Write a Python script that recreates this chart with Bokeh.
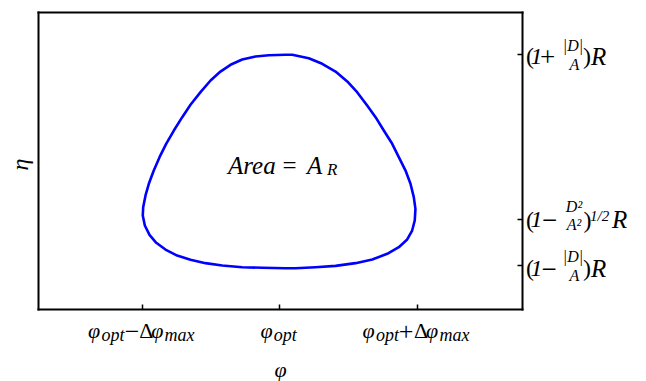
import math
from bokeh.plotting import figure
from bokeh.models import Label, FixedTicker, Range1d, CustomJSTickFormatter, LinearAxis
from bokeh.embed import file_html
from bokeh.resources import INLINE

# ---------------- data ----------------
# closed orbit in the (phi, eta) plane; phi in units of Delta-phi_max around phi_opt, eta in units of R
phi_curve = [0.040, -0.081, -0.178, -0.275, -0.360, -0.433, -0.505, -0.578, -0.651, -0.711,
             -0.772, -0.828, -0.876, -0.918, -0.954, -0.978, -0.995, -0.998, -0.983, -0.949,
             -0.900, -0.833, -0.748, -0.651, -0.542, -0.420, -0.275, -0.129, 0.040, 0.113,
             0.258, 0.404, 0.549, 0.671, 0.780, 0.864, 0.925, 0.961, 0.980, 0.985,
             0.973, 0.949, 0.913, 0.864, 0.816, 0.755, 0.695, 0.634, 0.561, 0.489,
             0.404, 0.307, 0.209, 0.089, 0.040]
eta_curve = [1.854, 1.850, 1.840, 1.815, 1.772, 1.717, 1.644, 1.549, 1.446, 1.345,
             1.236, 1.128, 1.019, 0.910, 0.802, 0.707, 0.611, 0.544, 0.462, 0.386,
             0.321, 0.266, 0.217, 0.182, 0.155, 0.136, 0.122, 0.117, 0.114, 0.114,
             0.122, 0.133, 0.155, 0.185, 0.231, 0.285, 0.348, 0.421, 0.503, 0.598,
             0.693, 0.802, 0.910, 1.019, 1.128, 1.236, 1.345, 1.440, 1.549, 1.636,
             1.717, 1.780, 1.826, 1.854, 1.854]

x_tick_values = [-1.0, 0.0, 1.0]
x_tick_label_parts = [["φ", "opt", "−", "Δ", "φ", "max"],
                      ["φ", "opt"],
                      ["φ", "opt", "+", "Δ", "φ", "max"]]

y_tick_values = [1.86, 0.51, 0.14]
y_tick_label_parts = [["(", "1", "+", "|D|", "A", ")", "R"],
                      ["(", "1", "−", "D²", "A²", ")", "1/2", "R"],
                      ["(", "1", "−", "|D|", "A", ")", "R"]]

area_text_parts = ["Area", "=", "A", "R"]
x_axis_title = "φ"
y_axis_title = "η"

# ---------------- layout / style ----------------
FONT = "Liberation Serif"
W, H = 640, 381
X_RANGE = (-2.0327, 2.6218)
Y_RANGE = (-0.8097, 2.2962)
BOX_X = (-1.753, 1.760)     # plot box edges
BOX_Y = (-0.2268, 2.1984)
BASELINE_FIX = 7            # px, renderer places alphabetic baselines this much lower

# per part: (dx from tick, dy down from box bottom, size px, style, align)
x_part_layout = [
    [(-54.5, 28, 22, "italic", "left"), (-41, 32, 18, "italic", "left"),
     (-10.5, 28.5, 26, "normal", "center"),
     (-3.2, 28, 22, "normal", "left"), (8.8, 28, 22, "italic", "left"), (22, 32, 18, "italic", "left")],
    [(-19.5, 28, 22, "italic", "left"), (-6.2, 32, 18, "italic", "left")],
    [(-55, 28, 22, "italic", "left"), (-41.5, 32, 18, "italic", "left"),
     (-11.5, 28.5, 26, "normal", "center"),
     (-3.5, 28, 22, "normal", "left"), (8.5, 28, 22, "italic", "left"), (22, 32, 18, "italic", "left")],
]
# per part: (dx from right box edge, dy down from tick, size px, style, align)
y_part_layout = [
    [(4, 9, 24, "normal", "left"), (8.5, 9, 24, "italic", "left"), (25.5, 9.5, 27, "normal", "center"),
     (51, -2, 16, "italic", "center"), (52.5, 17, 16, "italic", "center"),
     (61, 9, 24, "normal", "left"), (69, 9, 25, "italic", "left")],
    [(4, 7, 24, "normal", "left"), (8.5, 7, 24, "italic", "left"), (27.5, 7.5, 27, "normal", "center"),
     (52, -6.5, 16, "italic", "center"), (52, 11.5, 16, "italic", "center"),
     (61.5, 7, 24, "normal", "left"), (68, 3.5, 15, "italic", "left"), (90, 7, 25, "italic", "left")],
    [(4, 10, 24, "normal", "left"), (8.5, 10, 24, "italic", "left"), (27, 10.5, 27, "normal", "center"),
     (51, -1.5, 16, "italic", "center"), (52.5, 17, 16, "italic", "center"),
     (61, 10, 24, "normal", "left"), (69, 10, 25, "italic", "left")],
]
area_anchor = (0.0, 0.896)
area_layout = [(-52, 0, 25, "italic"), (2.5, 0, 25, "normal"), (27, 0, 25, "italic"), (47, 4.5, 17, "italic")]

p = figure(width=W, height=H, output_backend="svg", toolbar_location=None,
           x_range=Range1d(*X_RANGE), y_range=Range1d(*Y_RANGE),
           x_axis_type=None, y_axis_type=None,
           min_border_left=0, min_border_right=0, min_border_top=0, min_border_bottom=0)
p.grid.visible = False
p.background_fill_color = "white"
p.border_fill_color = "white"
p.outline_line_color = None

blank = CustomJSTickFormatter(code="return ''")


def box_axis(side, loc, bounds, ticks):
    ax = LinearAxis(fixed_location=loc, bounds=bounds,
                    ticker=FixedTicker(ticks=ticks, minor_ticks=[]), formatter=blank,
                    major_tick_in=5, major_tick_out=0, minor_tick_in=0, minor_tick_out=0,
                    axis_line_width=2, axis_line_cap="square", axis_line_color="black",
                    major_tick_line_width=1.5, major_tick_line_color="black",
                    major_label_text_font_size="0px", major_label_standoff=0)
    p.add_layout(ax, side)
    return ax


box_axis("below", BOX_Y[0], BOX_X, x_tick_values)
box_axis("right", BOX_X[1], BOX_Y, y_tick_values)
box_axis("left", BOX_X[0], BOX_Y, [])
box_axis("above", BOX_Y[1], BOX_X, [])

p.line(phi_curve, eta_curve, line_color="#0000ff", line_width=2.6, line_join="round")


def put(text, x, y, dx, dy_down, size, style, align="left", baseline="alphabetic", angle=0.0):
    if baseline == "alphabetic":
        dy_down -= BASELINE_FIX
    p.add_layout(Label(x=x, y=y, x_offset=dx, y_offset=-dy_down, text=text,
                       text_font=FONT, text_font_size=f"{size}px", text_font_style=style,
                       text_align=align, text_baseline=baseline, angle=angle,
                       text_color="black"))


for xv, parts, lay in zip(x_tick_values, x_tick_label_parts, x_part_layout):
    for t, (dx, dy, sz, st, al) in zip(parts, lay):
        put(t, xv, BOX_Y[0], dx, dy, sz, st, align=al)

for yv, parts, lay in zip(y_tick_values, y_tick_label_parts, y_part_layout):
    for t, (dx, dy, sz, st, al) in zip(parts, lay):
        put(t, BOX_X[1], yv, dx, dy, sz, st, align=al)

for t, (dx, dy, sz, st) in zip(area_text_parts, area_layout):
    put(t, area_anchor[0], area_anchor[1], dx, dy, sz, st)

put(x_axis_title, 0.0, BOX_Y[0], 0.5, 59.5, 22, "italic", align="center", baseline="middle")
put(y_axis_title, BOX_X[0], 1.0, -19, 5, 24, "italic", align="center", baseline="middle",
    angle=math.pi / 2)

open("out.html", "w").write(file_html(p, INLINE))
